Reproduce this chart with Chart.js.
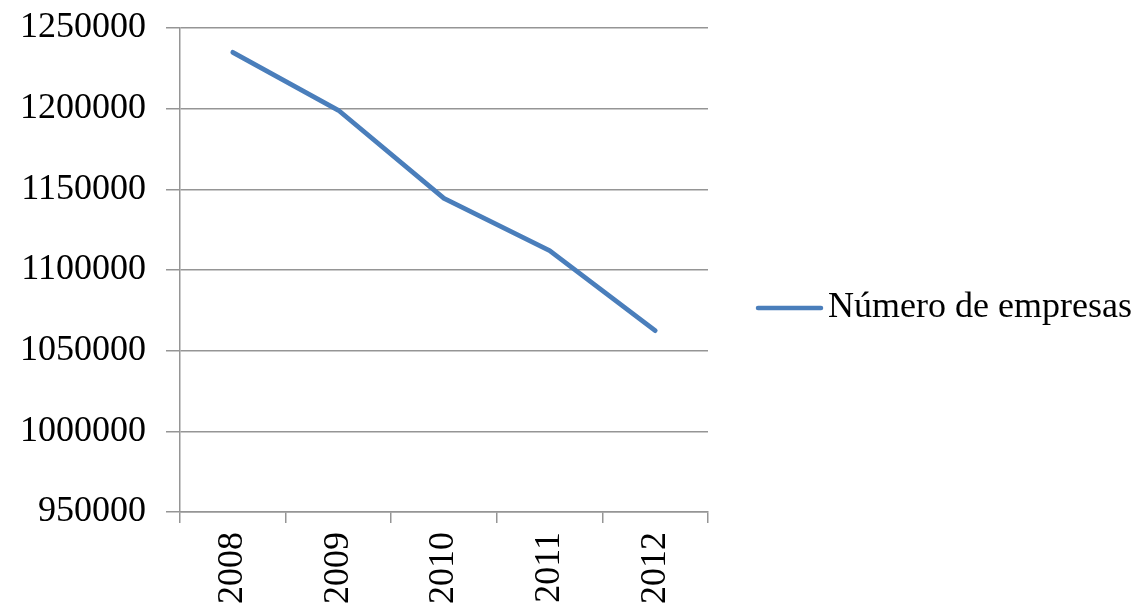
<!DOCTYPE html>
<html>
<head>
<meta charset="utf-8">
<script src="https://cdn.jsdelivr.net/npm/chart.js@4/dist/chart.umd.min.js"></script>
<style>
  html, body { margin: 0; padding: 0; background: #fff; }
  #wrap { width: 1142px; height: 603px; }
</style>
</head>
<body>
<div id="wrap"><canvas id="c" width="1142" height="603"></canvas></div>
<script>
// Número de empresas por año
const years = ['2008', '2009', '2010', '2011', '2012'];
const empresas = [1234900, 1199000, 1144400, 1112000, 1062400];
const seriesLabel = 'Número de empresas';
const yMin = 950000, yMax = 1250000, yStep = 50000;

const lineColor = '#4a7ebb';
const gridColor = '#959595';
const fontFamily = '"Liberation Serif", "Times New Roman", serif';

// Legend drawn to the right of the plot: a short line sample followed by the series label
const sideLegend = {
  id: 'sideLegend',
  afterDraw(chart) {
    const ctx = chart.ctx;
    const ds = chart.data.datasets[0];
    const y = 308;
    ctx.save();
    ctx.strokeStyle = ds.borderColor;
    ctx.lineWidth = 4.5;
    ctx.lineCap = 'round';
    ctx.beginPath();
    ctx.moveTo(758, y);
    ctx.lineTo(821, y);
    ctx.stroke();
    ctx.fillStyle = '#000';
    ctx.font = '36px ' + fontFamily;
    ctx.textBaseline = 'middle';
    ctx.textAlign = 'left';
    ctx.fillText(ds.label, 828, y);
    ctx.restore();
  }
};

new Chart(document.getElementById('c'), {
  type: 'line',
  data: {
    labels: years,
    datasets: [{
      label: seriesLabel,
      data: empresas,
      borderColor: lineColor,
      backgroundColor: lineColor,
      borderWidth: 4.8,
      borderCapStyle: 'round',
      borderJoinStyle: 'round',
      pointRadius: 0,
      tension: 0,
      fill: false
    }]
  },
  options: {
    responsive: false,
    animation: false,
    devicePixelRatio: 1,
    layout: { padding: { left: 0, right: 434, top: 28, bottom: 0 } },
    plugins: {
      legend: { display: false },
      tooltip: { enabled: false }
    },
    scales: {
      x: {
        offset: true,
        afterFit(scale) {
          scale.height = 91;
        },
        grid: {
          offset: true,
          drawOnChartArea: false,
          drawTicks: true,
          tickLength: 11,
          color: gridColor,
          lineWidth: 1.5
        },
        border: { display: true, color: gridColor, width: 1.5 },
        ticks: {
          minRotation: 90,
          maxRotation: 90,
          padding: 9,
          color: '#000',
          font: { family: fontFamily, size: 36 }
        }
      },
      y: {
        min: yMin,
        max: yMax,
        afterFit(scale) {
          scale.paddingTop = 0;
          scale.paddingBottom = 0;
        },
        ticks: {
          stepSize: yStep,
          padding: 20,
          color: '#000',
          font: { family: fontFamily, size: 36 },
          callback: v => String(v)
        },
        grid: {
          drawTicks: true,
          tickLength: 14,
          color: gridColor,
          lineWidth: 1.5
        },
        border: { display: true, color: gridColor, width: 1.5 }
      }
    }
  },
  plugins: [sideLegend]
});
</script>
</body>
</html>
